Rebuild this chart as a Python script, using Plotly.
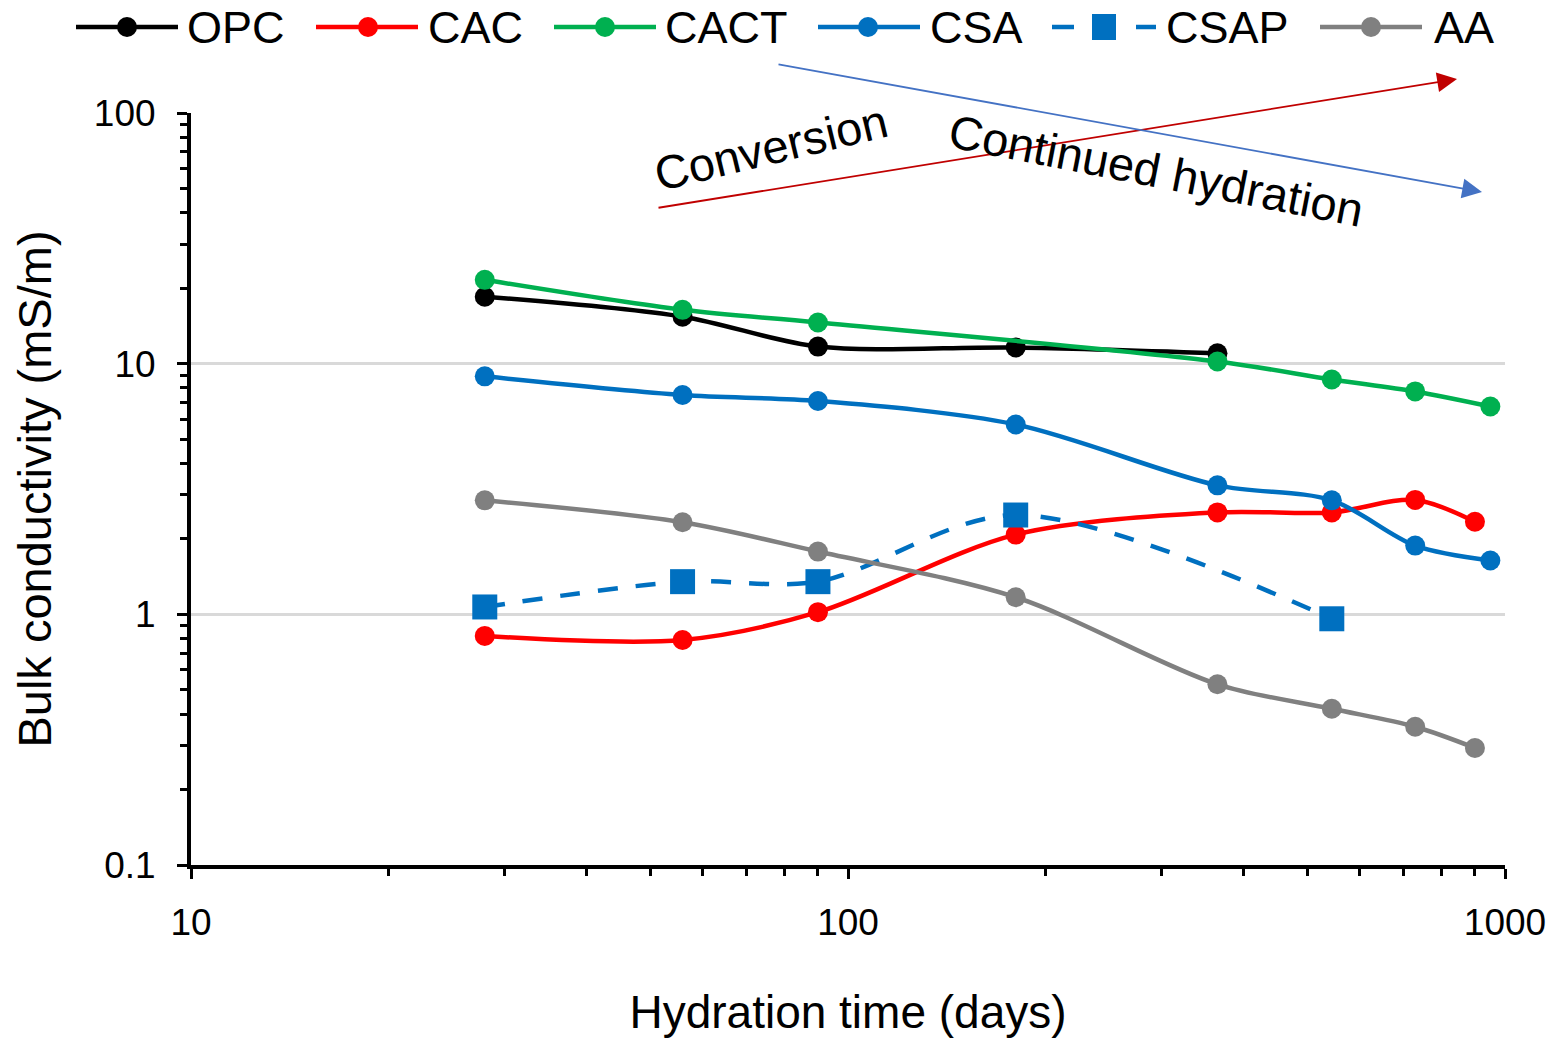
import plotly.graph_objects as go

# Hydration age (days) and bulk conductivity (mS/m) of each binder system
opc_days = [28, 56, 90, 180, 365]
opc_sigma = [18.5, 15.4, 11.7, 11.6, 11.0]

cac_days = [28, 56, 90, 180, 365, 545, 730, 900]
cac_sigma = [0.82, 0.79, 1.02, 2.08, 2.55, 2.55, 2.86, 2.34]

cact_days = [28, 56, 90, 365, 545, 730, 950]
cact_sigma = [21.6, 16.4, 14.6, 10.2, 8.65, 7.75, 6.75]

csa_days = [28, 56, 90, 180, 365, 545, 730, 950]
csa_sigma = [8.9, 7.5, 7.1, 5.72, 3.27, 2.85, 1.88, 1.64]

csap_days = [28, 56, 90, 180, 545]
csap_sigma = [1.07, 1.35, 1.35, 2.49, 0.96]

aa_days = [28, 56, 90, 180, 365, 545, 730, 900]
aa_sigma = [2.85, 2.33, 1.78, 1.17, 0.526, 0.42, 0.356, 0.293]

x_ticks = [10, 100, 1000]
x_tick_text = ["10", "100", "1000"]
y_ticks = [0.1, 1, 10, 100]
y_tick_text = ["0.1", "1", "10", "100"]

FONT = "Liberation Sans, Arial, sans-serif"
W, H = 1560, 1045
L, R, T, B = 191, 55, 113, 180
PW, PH = W - L - R, H - T - B


def px(x):
    return (x - L) / PW


def py(y):
    return (H - B - y) / PH


series = [
    ("OPC", opc_days, opc_sigma, "#000000", "circle", 20, "solid"),
    ("CAC", cac_days, cac_sigma, "#FF0000", "circle", 20, "solid"),
    ("CACT", cact_days, cact_sigma, "#00B050", "circle", 20, "solid"),
    ("CSA", csa_days, csa_sigma, "#0070C0", "circle", 20, "solid"),
    ("CSAP", csap_days, csap_sigma, "#0070C0", "square", 25, "20px,18px"),
    ("AA", aa_days, aa_sigma, "#808080", "circle", 20, "solid"),
]

fig = go.Figure()
for name, xs, ys, color, symbol, size, dash in series:
    fig.add_trace(go.Scatter(
        x=xs, y=ys, name=name, mode="lines+markers",
        line=dict(color=color, width=4.5, shape="spline", smoothing=0.9, dash=dash),
        marker=dict(color=color, symbol=symbol, size=size, line=dict(width=0)),
        showlegend=False,
    ))

# Custom legend row across the top
legend_items = [
    ("OPC", 76, 178, 127, 185),
    ("CAC", 316, 418, 368, 426),
    ("CACT", 554, 656, 605, 663),
    ("CSA", 818, 920, 868, 928),
    ("CSAP", 1052, 1156, 1104, 1164),
    ("AA", 1320, 1422, 1371, 1432),
]
shapes = []
annotations = []
ly = 27
for (name, x0, x1, xm, xt), s in zip(legend_items, series):
    color, symbol, dash = s[3], s[4], s[6]
    shapes.append(dict(
        type="line", xref="paper", yref="paper",
        x0=px(x0), x1=px(x1), y0=py(ly), y1=py(ly),
        line=dict(color=color, width=4.5,
                  dash="22px,20px" if dash != "solid" else "solid"),
    ))
    if symbol == "square":
        shapes.append(dict(
            type="rect", xref="paper", yref="paper",
            xsizemode="pixel", ysizemode="pixel",
            xanchor=px(xm), yanchor=py(ly),
            x0=-12, x1=12, y0=-13, y1=13,
            fillcolor=color, line=dict(width=0),
        ))
    else:
        shapes.append(dict(
            type="circle", xref="paper", yref="paper",
            xsizemode="pixel", ysizemode="pixel",
            xanchor=px(xm), yanchor=py(ly),
            x0=-10, x1=10, y0=-10, y1=10,
            fillcolor=color, line=dict(width=0),
        ))
    annotations.append(dict(
        xref="paper", yref="paper", x=px(xt), y=py(ly),
        xanchor="left", yanchor="middle", showarrow=False,
        text=name, font=dict(family=FONT, size=45, color="black"),
    ))

# Trend arrows
annotations.append(dict(
    xref="paper", yref="paper", x=px(1457), y=py(79),
    ax=657 - 1457, ay=208 - 79, axref="pixel", ayref="pixel",
    text="", showarrow=True, arrowhead=2, arrowsize=2.2, arrowwidth=1.8,
    arrowcolor="#C00000", standoff=0,
))
annotations.append(dict(
    xref="paper", yref="paper", x=px(1482), y=py(192),
    ax=777 - 1482, ay=64 - 192, axref="pixel", ayref="pixel",
    text="", showarrow=True, arrowhead=2, arrowsize=2.2, arrowwidth=1.8,
    arrowcolor="#4472C4", standoff=0,
))
annotations.append(dict(
    xref="paper", yref="paper", x=px(771), y=py(147),
    xanchor="center", yanchor="middle", showarrow=False,
    text="Conversion", textangle=-13.5,
    font=dict(family=FONT, size=47, color="black"),
))
annotations.append(dict(
    xref="paper", yref="paper", x=px(1156), y=py(170),
    xanchor="center", yanchor="middle", showarrow=False,
    text="Continued hydration", textangle=11,
    font=dict(family=FONT, size=47, color="black"),
))

minor_x = [v * 10 ** e for e in (1, 2) for v in range(2, 10)]
minor_y = [v * 10 ** e for e in (-1, 0, 1) for v in range(2, 10)]

fig.update_layout(
    width=W, height=H,
    margin=dict(l=L, r=R, t=T, b=B, autoexpand=False),
    paper_bgcolor="white", plot_bgcolor="white",
    font=dict(family=FONT, color="black"),
    shapes=shapes, annotations=annotations,
    xaxis=dict(
        type="log", range=[1, 3], tickmode="array",
        tickvals=x_ticks, ticktext=x_tick_text,
        tickfont=dict(size=37, family=FONT, color="black"),
        ticks="outside", ticklen=10, tickwidth=3, tickcolor="black",
        showline=True, linecolor="black", linewidth=4,
        showgrid=False, zeroline=False, ticklabelstandoff=12,
        minor=dict(tickmode="array", tickvals=minor_x, ticks="outside",
                   ticklen=7, tickwidth=3, tickcolor="black", showgrid=False),
        title=dict(text="Hydration time (days)",
                   font=dict(size=46, family=FONT, color="black"), standoff=54),
        automargin=False,
    ),
    yaxis=dict(
        type="log", range=[-1, 2], tickmode="array",
        tickvals=y_ticks, ticktext=y_tick_text,
        tickfont=dict(size=37, family=FONT, color="black"),
        ticks="outside", ticklen=10, tickwidth=3, tickcolor="black",
        showline=True, linecolor="black", linewidth=4,
        showgrid=True, gridcolor="#D9D9D9", gridwidth=3,
        zeroline=False, ticklabelstandoff=14,
        minor=dict(tickmode="array", tickvals=minor_y, ticks="outside",
                   ticklen=7, tickwidth=3, tickcolor="black", showgrid=False),
        title=dict(text="Bulk conductivity (mS/m)",
                   font=dict(size=47, family=FONT, color="black"), standoff=28),
        automargin=False,
    ),
)

fig.write_html("out.html")
